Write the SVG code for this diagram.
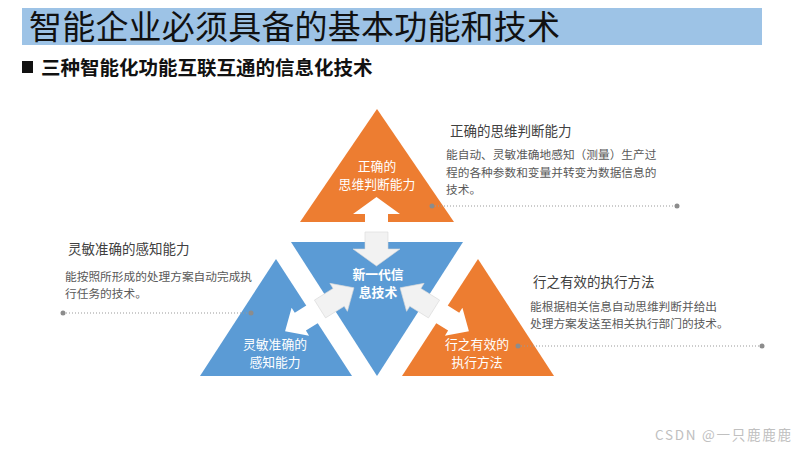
<svg xmlns="http://www.w3.org/2000/svg" width="800" height="450" viewBox="0 0 800 450">
<defs>
<style>
.cjk{font-family:"Noto Sans CJK SC","Liberation Sans",sans-serif}
.or{fill:#ED7D31}
.bl{fill:#5B9BD5}
.tl{font-size:12.8px;fill:#ffffff;text-anchor:middle}
.hd{font-size:13.5px;fill:#404040}
.bd{font-size:11.7px;fill:#595959}
.dl{stroke:#999999;stroke-width:1;stroke-dasharray:1 2;fill:none}
.dot{fill:#8c8c8c}
.aw{fill:#ffffff}
.ag{fill:#f2f2f2;stroke:#d9d9d9;stroke-width:0.6}
</style>
<path id="hd" d="M0,-10.5 H22 V-16.5 L40,0 L22,16.5 V10.5 H0 Z"/>
<path id="ht" d="M0,-11.5 H17 V-23.5 L34,0 L17,23.5 V11.5 H0 Z"/>
</defs>
<rect width="800" height="450" fill="#ffffff"/>
<g id="title">
<rect x="22" y="8" width="740" height="37" fill="#9DC3E6"/>
<text class="cjk" x="29" y="39" font-size="33" textLength="531" fill="#111111">智能企业必须具备的基本功能和技术</text>
</g>
<g id="subtitle">
<rect x="22" y="61" width="11" height="12" fill="#111111"/>
<text class="cjk" x="41" y="75" font-size="19.5" font-weight="bold" fill="#111111">三种智能化功能互联互通的信息化技术</text>
</g>
<g id="node-top">
<polygon class="or" points="377,109 454,222 300,222"/>
<text class="cjk tl" x="377" y="171">正确的</text>
<text class="cjk tl" x="377" y="189">思维判断能力</text>
</g>
<g id="node-center">
<polygon class="bl" points="291,242 463,242 377,376"/>
<text class="cjk tl" x="378" y="279" font-weight="bold">新一代信</text>
<text class="cjk tl" x="378" y="297" font-weight="bold">息技术</text>
</g>
<g id="node-left">
<polygon class="bl" points="276,259 352,376 200,376"/>
<text class="cjk tl" x="275" y="349">灵敏准确的</text>
<text class="cjk tl" x="275" y="367">感知能力</text>
</g>
<g id="node-right">
<polygon class="or" points="478,259 554,376 402,376"/>
<text class="cjk tl" x="477" y="349">行之有效的</text>
<text class="cjk tl" x="477" y="367">执行方法</text>
</g>
<g id="connectors">
<use href="#ht" class="aw" transform="translate(376.5,231) rotate(-90)"/>
<use href="#ht" class="ag" transform="translate(376.5,232) rotate(90)"/>
<use href="#hd" class="aw" transform="translate(319,310) rotate(148)"/>
<use href="#hd" class="ag" transform="translate(320,309) rotate(-32)"/>
<use href="#hd" class="aw" transform="translate(435,310) rotate(32)"/>
<use href="#hd" class="ag" transform="translate(434,309) rotate(212)"/>
<line class="dl" x1="432" y1="206" x2="677" y2="206"/>
<circle class="dot" cx="432" cy="206" r="2.5"/>
<circle class="dot" cx="677" cy="206" r="2.5"/>
<line class="dl" x1="63" y1="313" x2="251" y2="313"/>
<circle class="dot" cx="63" cy="313" r="2.5"/>
<circle class="dot" cx="251" cy="313" r="2.5"/>
<line class="dl" x1="518" y1="346" x2="762" y2="346"/>
<circle class="dot" cx="518" cy="346" r="2.5"/>
<circle class="dot" cx="762" cy="346" r="2.5"/>
</g>
<g id="desc-top">
<text class="cjk hd" x="450" y="136">正确的思维判断能力</text>
<text class="cjk bd" x="446" y="159">能自动、灵敏准确地感知（测量）生产过</text>
<text class="cjk bd" x="446" y="177">程的各种参数和变量并转变为数据信息的</text>
<text class="cjk bd" x="446" y="194">技术。</text>
</g>
<g id="desc-left">
<text class="cjk hd" x="68" y="254">灵敏准确的感知能力</text>
<text class="cjk bd" x="65" y="281">能按照所形成的处理方案自动完成执</text>
<text class="cjk bd" x="65" y="298">行任务的技术。</text>
</g>
<g id="desc-right">
<text class="cjk hd" x="533" y="287">行之有效的执行方法</text>
<text class="cjk bd" x="530" y="311">能根据相关信息自动思维判断并给出</text>
<text class="cjk bd" x="530" y="328">处理方案发送至相关执行部门的技术。</text>
</g>
<text class="cjk" x="655" y="440" font-size="13.5" textLength="136" fill="#c0c0c0">CSDN @一只鹿鹿鹿</text>
</svg>
